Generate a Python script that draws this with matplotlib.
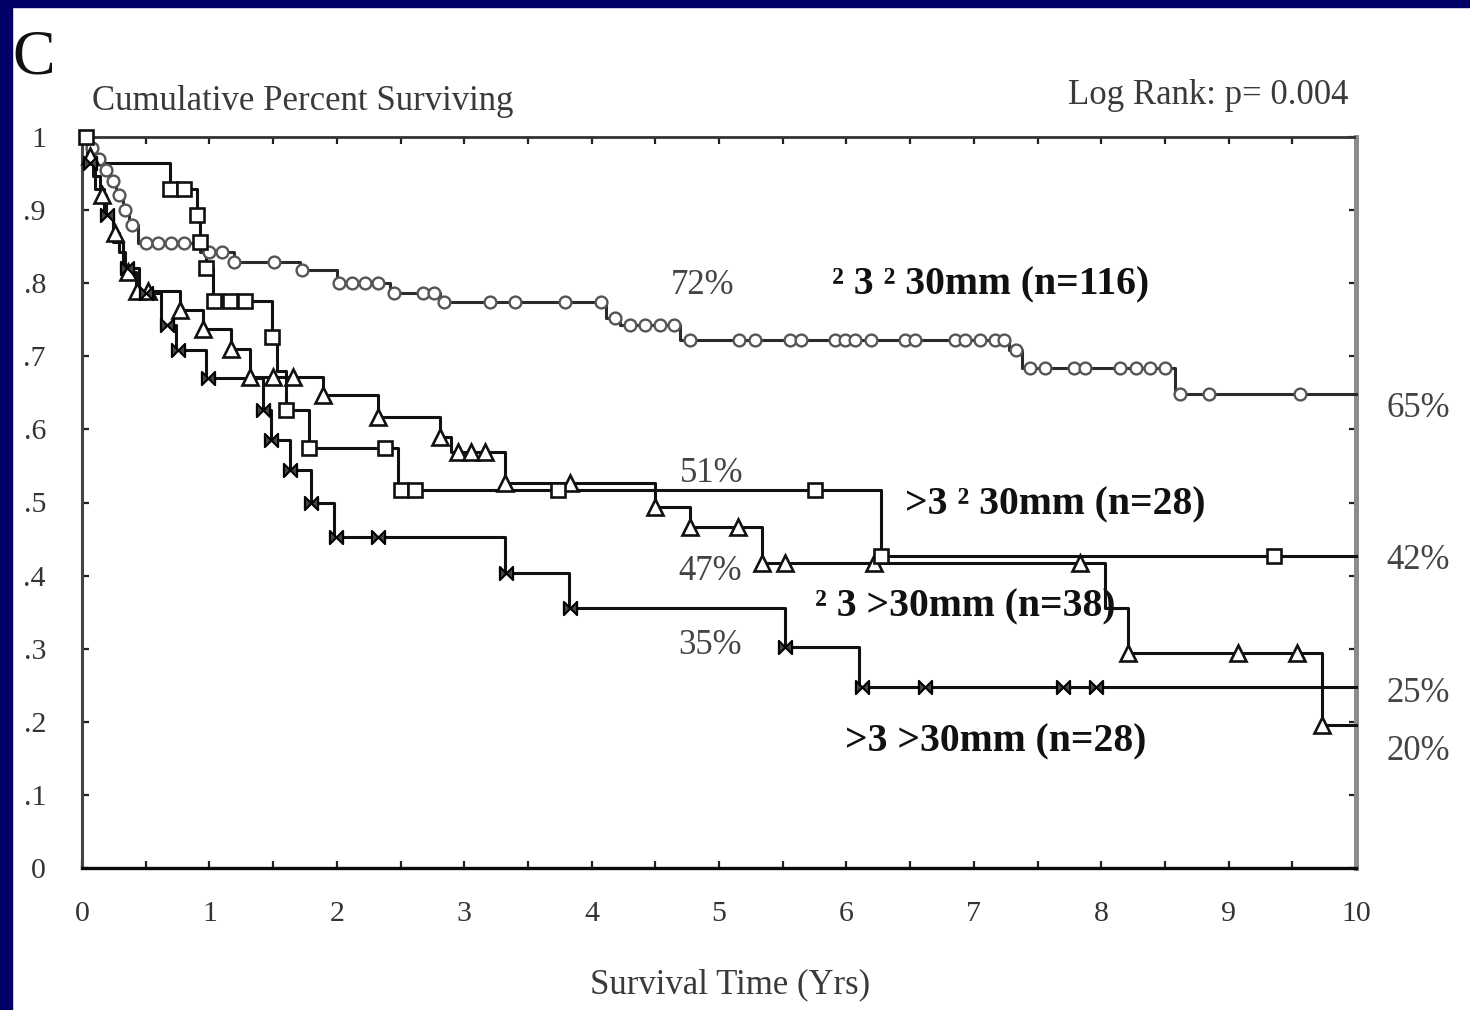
import numpy as np
import matplotlib
matplotlib.use("Agg")
import matplotlib.pyplot as plt
from matplotlib.patches import Rectangle
from matplotlib.path import Path

plt.rcParams['font.family'] = ['Liberation Serif', 'DejaVu Serif']

# ---------------- data ----------------
x_ticks = list(range(0, 11))
x_tick_labels = [str(v) for v in x_ticks]
y_ticks = [0.0, 0.1, 0.2, 0.3, 0.4, 0.5, 0.6, 0.7, 0.8, 0.9, 1.0]
y_tick_labels = ["0", ".1", ".2", ".3", ".4", ".5", ".6", ".7", ".8", ".9", "1"]

# <=3 nodules, <=30 mm (n=116)
g1_event_t = [0.05, 0.10, 0.17, 0.22, 0.27, 0.32, 0.37, 0.44, 0.93, 1.19, 1.71,
              2.00, 2.42, 2.81, 4.11, 4.22, 4.69, 7.28, 7.38, 8.58]
g1_event_s = [0.985, 0.970, 0.955, 0.940, 0.920, 0.900, 0.880, 0.855, 0.843, 0.829,
              0.818, 0.800, 0.787, 0.774, 0.752, 0.743, 0.722, 0.709, 0.684, 0.648]
g1_marks = [0.03, 0.08, 0.13, 0.19, 0.24, 0.29, 0.34, 0.39, 0.50, 0.60, 0.70, 0.80,
            1.00, 1.10, 1.19, 1.51, 1.73, 2.02, 2.12, 2.22, 2.32, 2.45, 2.68, 2.76,
            2.84, 3.20, 3.40, 3.79, 4.07, 4.18, 4.30, 4.42, 4.54, 4.65, 4.77, 5.16,
            5.28, 5.56, 5.64, 5.91, 5.99, 6.07, 6.19, 6.46, 6.54, 6.85, 6.93, 7.05,
            7.17, 7.24, 7.33, 7.44, 7.56, 7.79, 7.87, 8.15, 8.27, 8.38, 8.50, 8.62,
            8.85, 9.56]

# >3 nodules, <=30 mm (n=28)
g2_event_t = [0.08, 0.69, 0.90, 0.93, 0.97, 1.03, 1.49, 1.53, 1.60, 1.78, 2.48, 6.27]
g2_event_s = [0.964, 0.929, 0.893, 0.857, 0.821, 0.775, 0.727, 0.680, 0.627, 0.575,
              0.517, 0.427]
g2_marks = [0.03, 0.69, 0.80, 0.90, 0.93, 0.97, 1.04, 1.16, 1.28, 1.49, 1.60, 1.78,
            2.38, 2.50, 2.61, 3.74, 5.75, 6.27, 9.36]

# <=3 nodules, >30 mm (n=38)
g3_event_t = [0.04, 0.09, 0.14, 0.19, 0.24, 0.29, 0.34, 0.42, 0.77, 0.95, 1.17, 1.32,
              1.89, 2.32, 2.81, 2.90, 3.32, 4.50, 4.77, 5.34, 8.03, 8.21, 9.73]
g3_event_s = [0.974, 0.947, 0.921, 0.895, 0.868, 0.842, 0.816, 0.790, 0.763, 0.737,
              0.710, 0.672, 0.647, 0.617, 0.590, 0.569, 0.527, 0.494, 0.466, 0.417,
              0.356, 0.294, 0.196]
g3_marks = [0.06, 0.16, 0.26, 0.36, 0.43, 0.52, 0.77, 0.95, 1.17, 1.32, 1.50, 1.66,
            1.89, 2.32, 2.81, 2.95, 3.05, 3.16, 3.32, 3.83, 4.50, 4.77, 5.15, 5.34,
            5.52, 6.22, 7.83, 8.21, 9.07, 9.54, 9.73]

# >3 nodules, >30 mm (n=28)
g4_event_t = [0.04, 0.10, 0.17, 0.24, 0.32, 0.45, 0.62, 0.74, 0.97, 1.42, 1.48, 1.63,
              1.80, 1.98, 3.32, 3.82, 5.52, 6.10]
g4_event_s = [0.964, 0.929, 0.893, 0.857, 0.821, 0.786, 0.743, 0.709, 0.670, 0.627,
              0.586, 0.545, 0.500, 0.453, 0.403, 0.356, 0.303, 0.248]
g4_marks = [0.06, 0.20, 0.35, 0.50, 0.67, 0.75, 0.99, 1.42, 1.48, 1.63, 1.80, 1.99,
            2.32, 3.33, 3.83, 5.52, 6.12, 6.62, 7.70, 7.96]

t_max = 10.0

# ---------------- figure ----------------
W, H = 1470, 1010
fig = plt.figure(figsize=(W / 100, H / 100), dpi=100)
fig.patch.set_facecolor("white")

# navy slide frame
navy = "#000066"
fig.patches.append(Rectangle((0, 1 - 7 / H), 1, 7 / H, transform=fig.transFigure,
                             color=navy, zorder=0))
fig.patches.append(Rectangle((0, 0), 12 / W, 1, transform=fig.transFigure,
                             color=navy, zorder=0))

ax_left, ax_right, ax_top, ax_bot = 82, 1356, 137, 868
ax = fig.add_axes([ax_left / W, 1 - ax_bot / H, (ax_right - ax_left) / W,
                   (ax_bot - ax_top) / H])
ax.set_xlim(0, t_max)
ax.set_ylim(0, 1)


def km_curve(event_t, event_s):
    t = np.concatenate([[0.0], event_t, [t_max]])
    s = np.concatenate([[1.0], event_s, [event_s[-1]]])
    return t, s


def value_at(event_t, event_s, times):
    t, s = km_curve(event_t, event_s)
    idx = np.searchsorted(t, times, side="right") - 1
    return s[np.clip(idx, 0, len(s) - 1)]


bowtie = Path([(-1, -1), (-1, 1), (1, -1), (1, 1), (-1, -1)],
              [Path.MOVETO, Path.LINETO, Path.LINETO, Path.LINETO, Path.CLOSEPOLY])

groups = [
    (g1_event_t, g1_event_s, g1_marks, dict(marker="o", ms=8.5, mfc="white", mec="#555555", mew=1.7), "#2a2a2a"),
    (g3_event_t, g3_event_s, g3_marks, dict(marker="^", ms=11, mfc="white", mec="#111111", mew=1.9), "#111111"),
    (g4_event_t, g4_event_s, g4_marks, dict(marker=bowtie, ms=9.5, mfc="#444444", mec="#000000", mew=1.5), "#111111"),
    (g2_event_t, g2_event_s, g2_marks, dict(marker="s", ms=10, mfc="white", mec="#111111", mew=1.9), "#111111"),
]

for ev_t, ev_s, marks, mstyle, lc in groups:
    t, s = km_curve(np.array(ev_t), np.array(ev_s))
    ax.step(t, s, where="post", color=lc, lw=2.2, zorder=3, clip_on=False)
    mt = np.array(marks)
    ms_vals = value_at(np.array(ev_t), np.array(ev_s), mt)
    ax.plot(mt, ms_vals, ls="none", zorder=4, clip_on=False, **mstyle)

# axes frame
ax.spines["left"].set_color("#444444")
ax.spines["left"].set_linewidth(2.2)
ax.spines["bottom"].set_color("#0a0a0a")
ax.spines["bottom"].set_linewidth(2.4)
ax.spines["top"].set_color("#333333")
ax.spines["top"].set_linewidth(2.0)
ax.spines["top"].set_linestyle((0, (2, 1)))
ax.spines["right"].set_color("#8c8c8c")
ax.spines["right"].set_linewidth(3.6)

ax.set_xticks(x_ticks)
ax.set_xticklabels(x_tick_labels)
ax.set_xticks(np.arange(0.5, 10, 1.0), minor=True)
ax.set_yticks(y_ticks)
ax.set_yticklabels(y_tick_labels)
ax.tick_params(which="both", direction="in", top=True, right=True,
               length=5, width=1.6, color="#222222")
ax.tick_params(axis="x", which="major", pad=24, labelsize=21.5, labelcolor="#333333")
ax.tick_params(axis="y", which="major", pad=26, labelsize=21.5, labelcolor="#333333")
ax.tick_params(axis="y", which="minor", left=False, right=False)

# titles and annotations
fig.text(12 / W, 1 - 73 / H, "C", fontsize=46, color="#111111", ha="left", va="baseline")
fig.text(92 / W, 1 - 101 / H, "Cumulative Percent Surviving", fontsize=25,
         color="#3a3a3a", ha="left", va="center")
fig.text(1348 / W, 1 - 95 / H, "Log Rank: p= 0.004", fontsize=25,
         color="#3a3a3a", ha="right", va="center")
fig.text(730 / W, 1 - 985 / H, "Survival Time (Yrs)", fontsize=25,
         color="#3a3a3a", ha="center", va="center")

group_labels = [
    (5.89, 0.797, "\u00b2 3 \u00b2 30mm (n=116)"),
    (6.46, 0.497, ">3 \u00b2 30mm (n=28)"),
    (5.75, 0.357, "\u00b2 3 >30mm (n=38)"),
    (5.99, 0.172, ">3 >30mm (n=28)"),
]
for x, y, txt in group_labels:
    ax.text(x, y, txt, fontsize=28.5, fontweight="bold", color="#111111",
            ha="left", va="center", zorder=5)

pct_labels = [
    (4.62, 0.797, "72%"), (4.69, 0.540, "51%"), (4.68, 0.405, "47%"),
    (4.68, 0.305, "35%"), (10.24, 0.629, "65%"), (10.24, 0.420, "42%"),
    (10.24, 0.239, "25%"), (10.24, 0.159, "20%"),
]
for x, y, txt in pct_labels:
    ax.text(x, y, txt, fontsize=25, color="#444444", ha="left", va="center",
            clip_on=False, zorder=5)

fig.savefig("out.png", dpi=100, facecolor=fig.get_facecolor())
